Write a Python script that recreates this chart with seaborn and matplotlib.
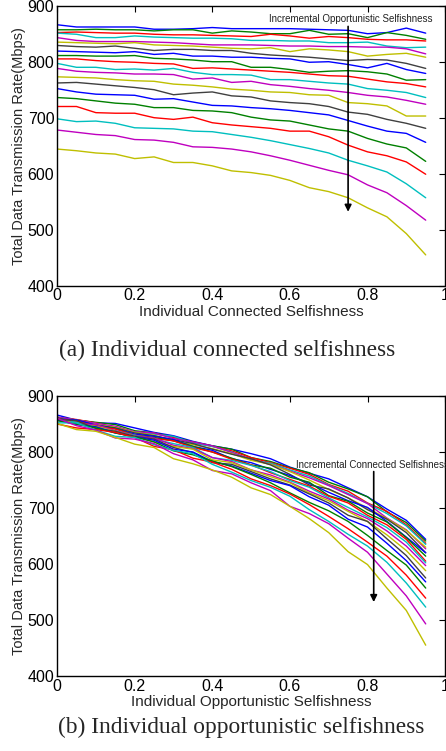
import numpy as np
import pandas as pd
import seaborn as sns
import matplotlib
matplotlib.use('Agg')
import matplotlib.pyplot as plt

# selfishness levels (x axis in both panels)
selfishness = [0, 0.05, 0.1, 0.15, 0.2, 0.25, 0.3, 0.35, 0.4, 0.45,
               0.5, 0.55, 0.6, 0.65, 0.7, 0.75, 0.8, 0.85, 0.9, 0.95]

# rows: one opportunistic selfishness level each (0 .. 0.95),
# columns: connected selfishness level (0 .. 0.95), values in Mbps
rate_opp_000 = [866, 862, 862, 862, 862, 858, 858, 859, 861, 859, 859, 859, 859, 858, 857, 856, 850, 852, 860, 851]
rate_opp_005 = [857, 857, 858, 857, 857, 855, 857, 857, 851, 855, 853, 850, 850, 856, 849, 850, 843, 852, 847, 840]
rate_opp_010 = [852, 853, 852, 851, 851, 849, 848, 848, 847, 846, 845, 849, 846, 842, 845, 843, 840, 839, 839, 837]
rate_opp_015 = [851, 849, 843, 843, 846, 844, 843, 842, 842, 841, 838, 838, 837, 837, 834, 834, 835, 828, 825, 826]
rate_opp_020 = [843, 838, 836, 836, 836, 835, 834, 832, 830, 830, 830, 829, 828, 828, 827, 827, 826, 826, 823, 814]
rate_opp_025 = [835, 834, 833, 832, 834, 830, 829, 828, 826, 824, 823, 825, 818, 823, 821, 818, 810, 813, 815, 808]
rate_opp_030 = [829, 827, 826, 828, 824, 820, 822, 822, 820, 820, 815, 812, 810, 808, 805, 802, 804, 803, 797, 788]
rate_opp_035 = [819, 818, 817, 816, 818, 813, 815, 810, 810, 808, 808, 806, 805, 799, 800, 795, 789, 797, 786, 779]
rate_opp_040 = [811, 811, 810, 810, 811, 806, 805, 803, 800, 800, 790, 790, 786, 781, 783, 784, 782, 778, 767, 768]
rate_opp_045 = [805, 805, 802, 800, 799, 797, 796, 788, 789, 787, 785, 783, 781, 778, 775, 774, 769, 764, 761, 755]
rate_opp_050 = [797, 790, 790, 786, 787, 785, 788, 781, 777, 777, 776, 768, 768, 765, 762, 760, 752, 749, 745, 736]
rate_opp_055 = [788, 783, 781, 780, 778, 778, 777, 769, 771, 763, 765, 759, 756, 752, 749, 745, 740, 737, 731, 724]
rate_opp_060 = [773, 772, 771, 768, 766, 765, 760, 758, 755, 751, 749, 746, 745, 741, 740, 727, 725, 721, 703, 703]
rate_opp_065 = [762, 763, 760, 757, 754, 750, 741, 744, 746, 739, 737, 730, 727, 725, 720, 710, 706, 697, 690, 681]
rate_opp_070 = [752, 746, 742, 741, 740, 733, 734, 728, 722, 721, 718, 716, 713, 709, 705, 695, 685, 676, 672, 656]
rate_opp_075 = [736, 734, 730, 726, 724, 718, 718, 713, 712, 709, 701, 696, 694, 687, 680, 676, 663, 653, 646, 622]
rate_opp_080 = [720, 720, 709, 708, 708, 700, 697, 701, 691, 687, 684, 681, 676, 676, 666, 651, 639, 632, 621, 599]
rate_opp_085 = [698, 693, 694, 690, 682, 681, 680, 676, 675, 670, 665, 659, 652, 645, 637, 624, 614, 603, 582, 557]
rate_opp_090 = [678, 674, 670, 668, 661, 660, 656, 648, 647, 644, 639, 632, 624, 615, 606, 598, 580, 566, 543, 517]
rate_opp_095 = [644, 641, 637, 635, 627, 630, 620, 620, 614, 605, 602, 597, 588, 575, 568, 557, 539, 523, 493, 455]

rates = np.array([rate_opp_000, rate_opp_005, rate_opp_010, rate_opp_015, rate_opp_020,
                  rate_opp_025, rate_opp_030, rate_opp_035, rate_opp_040, rate_opp_045,
                  rate_opp_050, rate_opp_055, rate_opp_060, rate_opp_065, rate_opp_070,
                  rate_opp_075, rate_opp_080, rate_opp_085, rate_opp_090, rate_opp_095])

# old matlab line colour cycle
matlab_cycle = ['#0000ff', '#008000', '#ff0000', '#00bfbf', '#bf00bf', '#bfbf00', '#404040']
palette = [matlab_cycle[i % 7] for i in range(len(selfishness))]

sns.set_style('white')
plt.rcParams['font.family'] = ['Liberation Sans', 'DejaVu Sans']


def long_form(matrix):
    # one row of the matrix -> one line
    recs = []
    for k, row in enumerate(matrix):
        for xv, yv in zip(selfishness, row):
            recs.append({'x': xv, 'rate': yv, 'line': k})
    return pd.DataFrame(recs)


def style_axes(ax, xlabel):
    ax.set_xlim(0, 1)
    ax.set_ylim(400, 900)
    ax.set_xticks([0, 0.2, 0.4, 0.6, 0.8, 1])
    ax.set_xticklabels(['0', '0.2', '0.4', '0.6', '0.8', '1'])
    ax.set_yticks([400, 500, 600, 700, 800, 900])
    ax.tick_params(direction='in', top=True, right=True, length=4, width=0.8,
                   labelsize=11.5, pad=2, colors='black')
    for s in ax.spines.values():
        s.set_visible(True)
        s.set_color('black')
        s.set_linewidth(1.0)
    ax.set_xlabel(xlabel, fontsize=11, labelpad=1)
    ax.set_ylabel('Total Data Transmission Rate(Mbps)', fontsize=10.5, labelpad=1)


fig = plt.figure(figsize=(4.46, 7.51), dpi=100)
ax1 = fig.add_axes([0.128, 0.6196, 0.870, 0.3728])
ax2 = fig.add_axes([0.128, 0.0999, 0.870, 0.3728])

# (a) one line per opportunistic level, x = connected selfishness
sns.lineplot(data=long_form(rates), x='x', y='rate', hue='line', palette=palette,
             legend=False, linewidth=1.0, ax=ax1)
style_axes(ax1, 'Individual Connected Selfishness')
ax1.annotate('', xy=(0.75, 527), xytext=(0.75, 868),
             arrowprops=dict(arrowstyle='-|>', color='black', lw=1.2,
                             mutation_scale=10))
ax1.text(0.756, 876, 'Incremental Opportunistic Selfishness', fontsize=7,
         ha='center', va='center', color='#222222')

# (b) one line per connected level, x = opportunistic selfishness
sns.lineplot(data=long_form(rates.T), x='x', y='rate', hue='line', palette=palette,
             legend=False, linewidth=1.0, ax=ax2)
style_axes(ax2, 'Individual Opportunistic Selfishness')
ax2.annotate('', xy=(0.816, 527), xytext=(0.816, 770),
             arrowprops=dict(arrowstyle='-|>', color='black', lw=1.2,
                             mutation_scale=10))
ax2.text(0.617, 777, 'Incremental Connected Selfishness', fontsize=7,
         ha='left', va='center', color='#222222', clip_on=False)

fig.text(0.509, 0.534, '(a) Individual connected selfishness', fontsize=16.8,
         ha='center', va='center', family=['Liberation Serif', 'DejaVu Serif'])
fig.text(0.54, 0.032, '(b) Individual opportunistic selfishness', fontsize=16.8,
         ha='center', va='center', family=['Liberation Serif', 'DejaVu Serif'])

fig.savefig('out.png', dpi=100)
